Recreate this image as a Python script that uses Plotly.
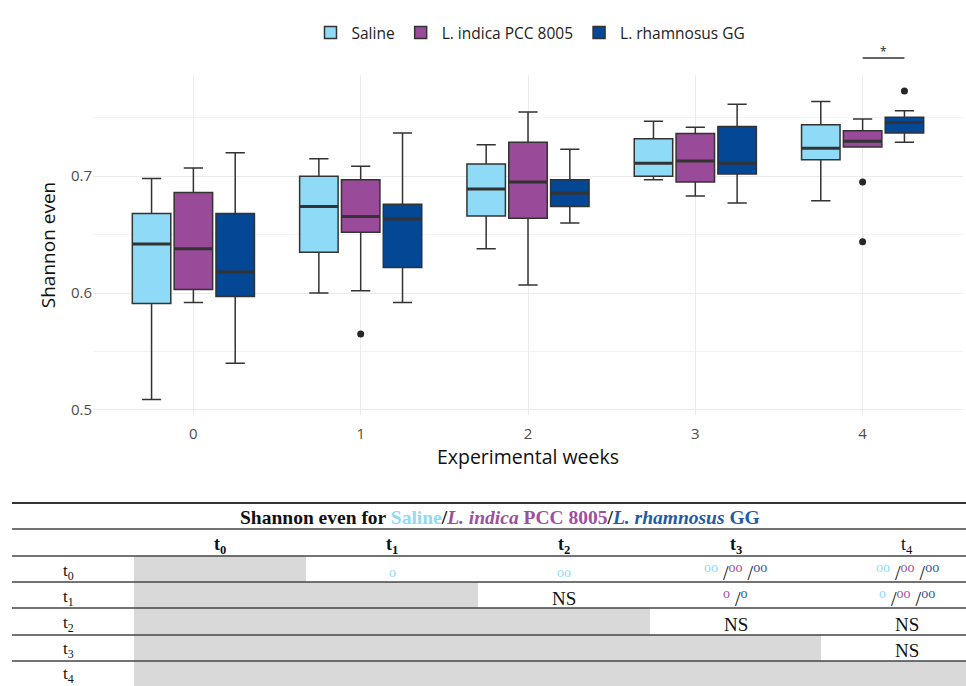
import plotly.graph_objects as go

# ---- box-plot summaries of Shannon evenness per experimental week ----
weeks = [0, 1, 2, 3, 4]
group_names = ["Saline", "L. indica PCC 8005", "L. rhamnosus GG"]

saline_low = [0.509, 0.600, 0.638, 0.697, 0.679]
saline_q1 = [0.591, 0.635, 0.666, 0.700, 0.714]
saline_med = [0.642, 0.674, 0.689, 0.711, 0.724]
saline_q3 = [0.668, 0.700, 0.7105, 0.732, 0.744]
saline_high = [0.698, 0.715, 0.727, 0.747, 0.764]
saline_out_weeks = []
saline_out_vals = []

indica_low = [0.592, 0.602, 0.607, 0.683, 0.725]
indica_q1 = [0.603, 0.652, 0.664, 0.695, 0.725]
indica_med = [0.638, 0.6655, 0.695, 0.713, 0.730]
indica_q3 = [0.686, 0.697, 0.729, 0.7365, 0.739]
indica_high = [0.707, 0.7085, 0.755, 0.742, 0.749]
indica_out_weeks = [1, 4, 4]
indica_out_vals = [0.565, 0.695, 0.644]

rham_low = [0.540, 0.592, 0.660, 0.677, 0.729]
rham_q1 = [0.597, 0.622, 0.674, 0.702, 0.737]
rham_med = [0.618, 0.6635, 0.6855, 0.711, 0.746]
rham_q3 = [0.668, 0.676, 0.697, 0.7425, 0.7505]
rham_high = [0.720, 0.737, 0.723, 0.7615, 0.756]
rham_out_weeks = [4]
rham_out_vals = [0.773]

y_ticks = [0.5, 0.6, 0.7]
y_minor = [0.55, 0.65, 0.75]

# ---- pairwise comparison table (Shannon even, time points) ----
time_labels = ["t0", "t1", "t2", "t3", "t4"]
# each cell: "NS", None (shaded), "" (empty) or marks per group (saline, indica, rhamnosus)
comparisons = [
    [None, ("o", "", ""), ("oo", "", ""), ("oo", "oo", "oo"), ("oo", "oo", "oo")],
    [None, None, "NS", ("", "o", "o"), ("o", "oo", "oo")],
    [None, None, None, "NS", "NS"],
    [None, None, None, None, "NS"],
    [None, None, None, None, None],
]

colors = ["#8FDAF6", "#994A99", "#034795"]
table_colors = ["#8FDAF6", "#9E4FA2", "#1F5BA8"]
offsets = [-0.25, 0.0, 0.25]
box_w = 0.23

fig = go.Figure()

series = [
    (saline_low, saline_q1, saline_med, saline_q3, saline_high, saline_out_weeks, saline_out_vals),
    (indica_low, indica_q1, indica_med, indica_q3, indica_high, indica_out_weeks, indica_out_vals),
    (rham_low, rham_q1, rham_med, rham_q3, rham_high, rham_out_weeks, rham_out_vals),
]

for name, color, off, (lo, q1, med, q3, hi, ow, ov) in zip(group_names, colors, offsets, series):
    xs = [w + off for w in weeks]
    fig.add_trace(go.Box(
        x=xs, q1=q1, median=med, q3=q3, lowerfence=lo, upperfence=hi,
        name=name, fillcolor=color, width=box_w,
        line=dict(color="#333333", width=1.5), boxpoints=False,
        hoverinfo="skip",
    ))
    # thicker median bars
    mx, my = [], []
    for x, m in zip(xs, med):
        mx += [x - box_w / 2, x + box_w / 2, None]
        my += [m, m, None]
    fig.add_trace(go.Scatter(x=mx, y=my, mode="lines", showlegend=False,
                             line=dict(color="#333333", width=3), hoverinfo="skip"))
    if ov:
        fig.add_trace(go.Scatter(
            x=[w + off for w in ow], y=ov, mode="markers", showlegend=False,
            marker=dict(color="#262626", size=7), hoverinfo="skip",
        ))

W, H = 966, 686
ML, MR, MT, MB = 93, 3, 75, 271
PW, PH = W - ML - MR, H - MT - MB


def px_x(px):
    return (px - ML) / PW


def px_y(py):
    return (H - MB - py) / PH


def note(x, y, text, size, family, color="#111111", xref="paper"):
    fig.add_annotation(xref=xref, yref="paper", x=x, y=y, text=text, showarrow=False,
                       xanchor="center", yanchor="middle",
                       font=dict(size=size, family=family, color=color))


# significance bracket between L. indica and L. rhamnosus at week 4
fig.add_shape(type="line", xref="x", yref="paper",
              x0=weeks[4] + offsets[1], x1=weeks[4] + offsets[2],
              y0=px_y(58), y1=px_y(58), line=dict(color="#333333", width=1.3))
note(weeks[4] + (offsets[1] + offsets[2]) / 2, px_y(51), "*", 12, "Open Sans", "#222222", xref="x")

# ---- table drawn beneath the chart ----
serif = "Liberation Serif"
line_ys = [503, 529, 556, 582, 608, 635, 661]
tab_x0, tab_x1 = 12, 970
col_edges = [134, 306, 478, 650, 821, 993]
row_centers = [571, 597, 623, 649, 674]
row_edges = [556, 582, 608, 635, 661, 690]

# shaded cells
for r, row in enumerate(comparisons):
    shade_end = None
    for c, cell in enumerate(row):
        if cell is None:
            shade_end = col_edges[c + 1]
    if shade_end:
        fig.add_shape(type="rect", xref="paper", yref="paper", layer="below",
                      x0=px_x(col_edges[0]), x1=px_x(shade_end),
                      y0=px_y(row_edges[r + 1]), y1=px_y(row_edges[r]),
                      line=dict(width=0), fillcolor="#D9D9D9")

for i, ly in enumerate(line_ys):
    fig.add_shape(type="line", xref="paper", yref="paper",
                  x0=px_x(tab_x0), x1=px_x(tab_x1), y0=px_y(ly), y1=px_y(ly),
                  line=dict(color="#333333" if i == 0 else "#444444", width=2 if i == 0 else 1.4))

title_txt = (
    "<b>Shannon even for "
    f"<span style='color:{table_colors[0]}'>Saline</span>/"
    f"<span style='color:{table_colors[1]}'><i>L. indica</i> PCC 8005</span>/"
    f"<span style='color:{table_colors[2]}'><i>L. rhamnosus</i> GG</span></b>"
)
note(px_x(500), px_y(517), title_txt, 19.5, serif)

for c, lab in enumerate(time_labels):
    cx = (col_edges[c] + col_edges[c + 1]) / 2
    t = f"t<sub>{lab[1]}</sub>"
    if c < 4:
        t = f"<b>{t}</b>"
    note(px_x(cx), px_y(545), t, 18, serif)

for r, lab in enumerate(time_labels):
    note(px_x(68), px_y(row_centers[r] + 1), f"t<sub>{lab[1]}</sub>", 17, serif)

for r, row in enumerate(comparisons):
    for c, cell in enumerate(row):
        if not cell:
            continue
        cx = (col_edges[c] + col_edges[c + 1]) / 2
        if cell == "NS":
            note(px_x(cx), px_y(row_centers[r] + 1), "NS", 19, serif)
        else:
            parts = [f"<span style='color:{table_colors[k]}'><sup>{m}</sup></span>"
                     for k, m in enumerate(cell) if m]
            note(px_x(cx), px_y(row_centers[r] + 1), " /".join(parts), 20, serif)

font_sans = "Open Sans"
fig.update_layout(
    width=W, height=H,
    margin=dict(l=ML, r=MR, t=MT, b=MB),
    plot_bgcolor="white", paper_bgcolor="white",
    boxmode="overlay",
    font=dict(family=font_sans, color="#222222"),
    legend=dict(orientation="h", x=px_x(530), xanchor="center", y=px_y(33), yanchor="middle",
                font=dict(size=15.5, color="#222222"), itemwidth=32),
    xaxis=dict(
        range=[-0.6, 4.6], tickvals=weeks, ticktext=[str(w) for w in weeks],
        showgrid=True, gridcolor="#EBEBEB", gridwidth=1.2, zeroline=False,
        ticks="", showline=False, tickfont=dict(size=15, color="#4D4D4D"),
        ticklabelstandoff=8,
        title=dict(text="Experimental weeks", font=dict(size=19.5, color="#111111"), standoff=4),
    ),
    yaxis=dict(
        range=[0.4957, 0.7866], tickvals=y_ticks, ticktext=[f"{v:.1f}" for v in y_ticks],
        showgrid=True, gridcolor="#EBEBEB", gridwidth=1.2, zeroline=False,
        ticks="", showline=False, tickfont=dict(size=15, color="#4D4D4D"),
        minor=dict(tickvals=y_minor, showgrid=True, gridcolor="#F3F3F3", gridwidth=1),
        title=dict(text="Shannon even", font=dict(size=19, color="#111111"), standoff=10),
    ),
)

fig.write_html("out.html")
